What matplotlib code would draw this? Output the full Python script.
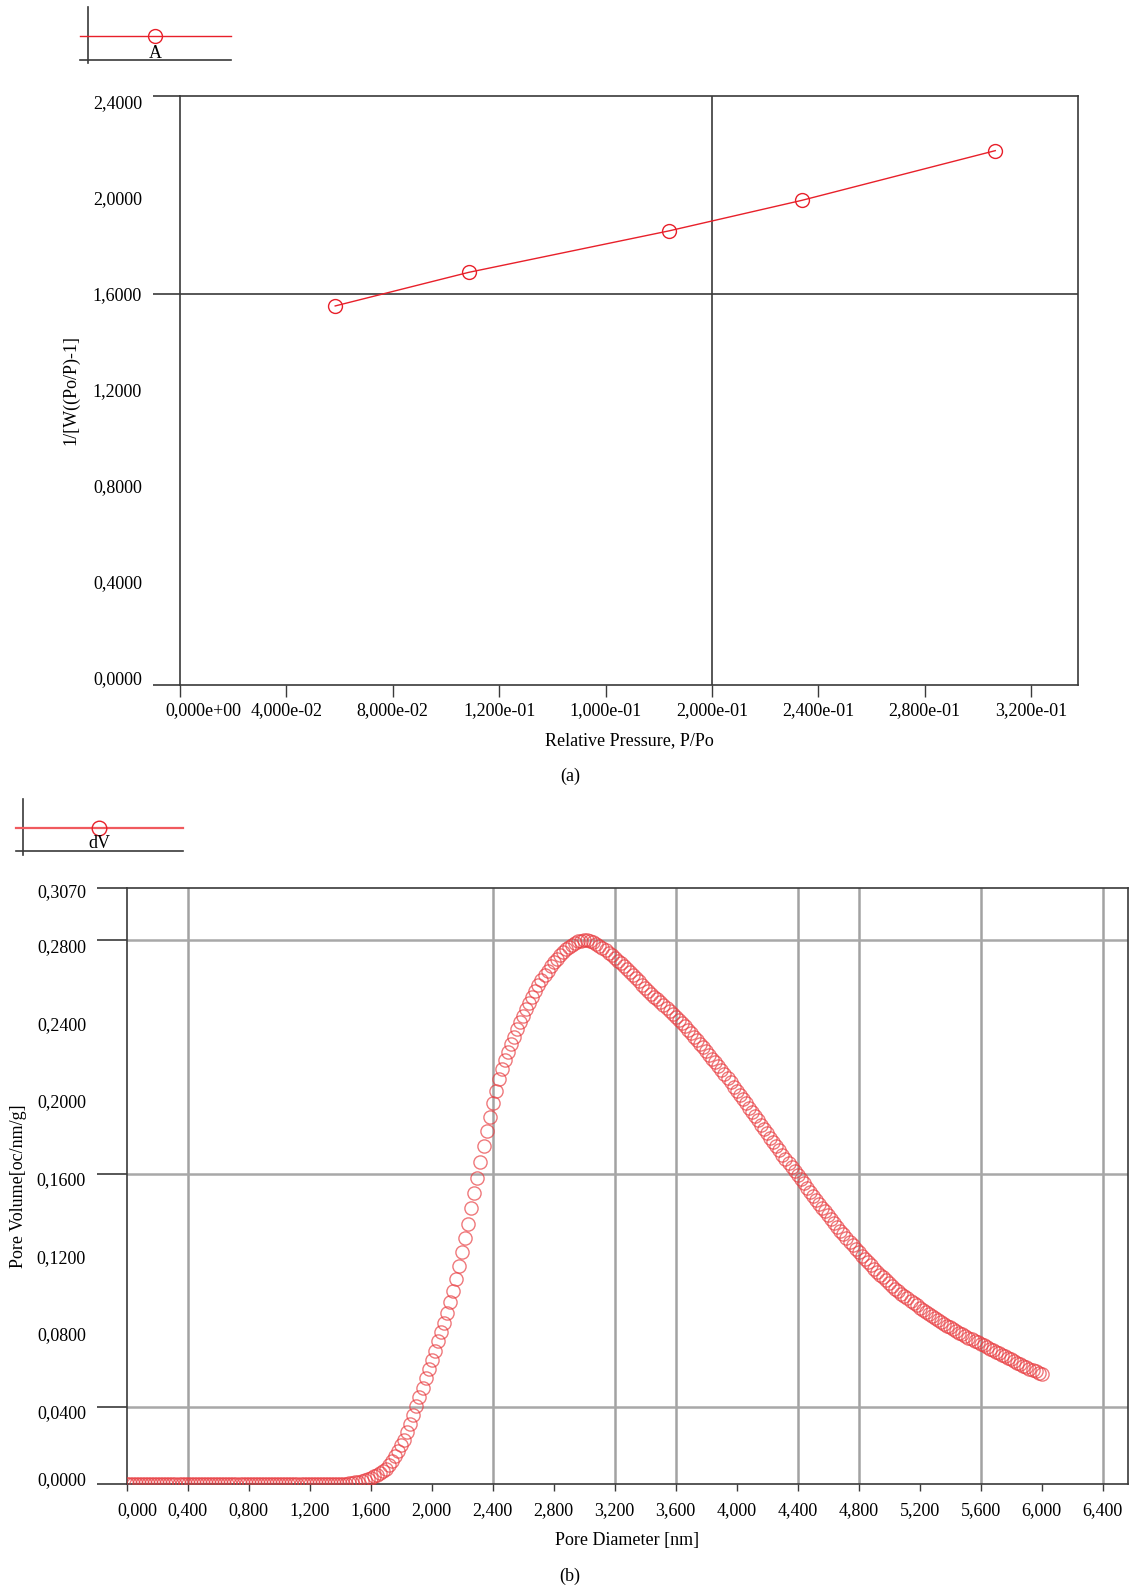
import numpy as np
import matplotlib.pyplot as plt
from matplotlib.transforms import ScaledTranslation

plt.rcParams['font.family'] = ['Liberation Serif', 'DejaVu Serif']
plt.rcParams['font.size'] = 13

# (a) BET plot
bet_p = [0.05835, 0.10857, 0.18395, 0.23380, 0.30650]
bet_y = [1.549, 1.689, 1.862, 1.989, 2.196]
bet_xticks = [0.00, 0.04, 0.08, 0.12, 0.16, 0.20, 0.24, 0.28, 0.32]
bet_xlabels = ['0,000e+00', '4,000e-02', '8,000e-02', '1,200e-01', '1,000e-01',
               '2,000e-01', '2,400e-01', '2,800e-01', '3,200e-01']
bet_yticks = [0.0, 0.4, 0.8, 1.2, 1.6, 2.0, 2.4]
bet_ylabels = ['0,0000', '0,4000', '0,8000', '1,2000', '1,6000', '2,0000', '2,4000']
bet_grid_x = [0.20]
bet_grid_y = [1.6]

# (b) pore size distribution, sampled every 0.02 nm
psd_dv = [
    0, 0, 0, 0, 0, 0, 0, 0, 0, 0,
    0, 0, 0, 0, 0, 0, 0, 0, 0, 0,
    0, 0, 0, 0, 0, 0, 0, 0, 0, 0,
    0, 0, 0, 0, 0, 0, 0, 0, 0, 0,
    0, 0, 0, 0, 0, 0, 0, 0, 0, 0,
    0, 0, 0, 0, 0, 0, 0, 0, 0, 0,
    0, 0, 0, 0, 0, 0, 0, 0, 0, 0,
    0, 0, 0, 0.0005, 0.0008, 0.0010, 0.0014, 0.0018, 0.0023, 0.0029,
    0.0035, 0.0042, 0.0050, 0.0059, 0.0068, 0.0078, 0.0098, 0.0120, 0.0145, 0.0172,
    0.0200, 0.0230, 0.0268, 0.0310, 0.0355, 0.0402, 0.0450, 0.0498, 0.0546, 0.0593,
    0.0640, 0.0688, 0.0736, 0.0784, 0.0831, 0.0882, 0.0937, 0.0995, 0.1058, 0.1125,
    0.1195, 0.1267, 0.1342, 0.1420, 0.1499, 0.1579, 0.1660, 0.1740, 0.1818, 0.1893,
    0.1963, 0.2027, 0.2085, 0.2137, 0.2184, 0.2227, 0.2267, 0.2305, 0.2342, 0.2378,
    0.2413, 0.2447, 0.2480, 0.2511, 0.2541, 0.2569, 0.2596, 0.2621, 0.2645, 0.2667,
    0.2687, 0.2706, 0.2724, 0.2740, 0.2755, 0.2768, 0.2779, 0.2788, 0.2795, 0.2799,
    0.2801, 0.2800, 0.2796, 0.2790, 0.2782, 0.2773, 0.2762, 0.2750, 0.2737, 0.2724,
    0.2710, 0.2696, 0.2682, 0.2667, 0.2652, 0.2637, 0.2621, 0.2605, 0.2589, 0.2573,
    0.2557, 0.2541, 0.2526, 0.2511, 0.2496, 0.2481, 0.2466, 0.2451, 0.2436, 0.2421,
    0.2406, 0.2390, 0.2374, 0.2357, 0.2340, 0.2323, 0.2305, 0.2287, 0.2269, 0.2250,
    0.2231, 0.2212, 0.2192, 0.2172, 0.2152, 0.2132, 0.2111, 0.2090, 0.2069, 0.2048,
    0.2027, 0.2005, 0.1983, 0.1961, 0.1939, 0.1917, 0.1895, 0.1873, 0.1851, 0.1829,
    0.1807, 0.1785, 0.1763, 0.1741, 0.1719, 0.1697, 0.1675, 0.1654, 0.1633, 0.1612,
    0.1591, 0.1570, 0.1549, 0.1528, 0.1507, 0.1486, 0.1465, 0.1445, 0.1425, 0.1405,
    0.1385, 0.1365, 0.1345, 0.1325, 0.1306, 0.1287, 0.1268, 0.1249, 0.1230, 0.1212,
    0.1194, 0.1177, 0.1160, 0.1143, 0.1127, 0.1111, 0.1095, 0.1080, 0.1065, 0.1050,
    0.1036, 0.1022, 0.1008, 0.0995, 0.0982, 0.0969, 0.0957, 0.0945, 0.0933, 0.0921,
    0.0910, 0.0899, 0.0888, 0.0877, 0.0867, 0.0857, 0.0847, 0.0837, 0.0827, 0.0817,
    0.0808, 0.0799, 0.0790, 0.0781, 0.0772, 0.0763, 0.0755, 0.0747, 0.0739, 0.0731,
    0.0723, 0.0715, 0.0707, 0.0699, 0.0691, 0.0683, 0.0675, 0.0667, 0.0659, 0.0651,
    0.0643, 0.0635, 0.0627, 0.0619, 0.0611, 0.0603, 0.0596, 0.0589, 0.0582, 0.0575,
    0.0568,
]
psd_step = 0.02
psd_d = np.arange(len(psd_dv)) * psd_step
psd_xticks = [0.0, 0.4, 0.8, 1.2, 1.6, 2.0, 2.4, 2.8, 3.2, 3.6, 4.0, 4.4, 4.8,
              5.2, 5.6, 6.0, 6.4]
psd_xlabels = ['0,000', '0,400', '0,800', '1,200', '1,600', '2,000', '2,400',
               '2,800', '3,200', '3,600', '4,000', '4,400', '4,800', '5,200',
               '5,600', '6,000', '6,400']
psd_yticks = [0.0, 0.04, 0.08, 0.12, 0.16, 0.20, 0.24, 0.28, 0.307]
psd_ylabels = ['0,0000', '0,0400', '0,0800', '0,1200', '0,1600', '0,2000',
               '0,2400', '0,2800', '0,3070']
psd_grid_x = [0.4, 2.4, 3.2, 3.6, 4.4, 4.8, 5.6, 6.4]
psd_grid_y = [0.04, 0.16, 0.28]

W, H = 1130, 1588
DARK = '#3a3a3a'
RED = '#e8202a'

fig = plt.figure(figsize=(W / 100, H / 100), dpi=100)


def box(left, top, right, bottom):
    """axes rectangle from pixel edges"""
    return [left / W, 1 - bottom / H, (right - left) / W, (bottom - top) / H]


def nudge(label, dx=0.0, dy=0.0):
    label.set_transform(label.get_transform()
                        + ScaledTranslation(dx / 100, dy / 100, fig.dpi_scale_trans))


def frame(ax, marks, ylabel_pad, ymark_len, xtick_len, xpad):
    for s in ax.spines.values():
        s.set_color(DARK)
        s.set_linewidth(1.2)
    ax.yaxis.remove_overlapping_locs = False
    ax.set_yticks(marks, minor=True)
    ax.tick_params(axis='y', which='major', length=0, pad=ylabel_pad, labelsize=13)
    ax.tick_params(axis='y', which='minor', length=ymark_len, width=1.2, color=DARK)
    ax.tick_params(axis='x', which='major', length=xtick_len, width=1.0, color=DARK,
                   pad=xpad, labelsize=13)


# ---- (a) ----
ax1 = fig.add_axes(box(180, 96, 1078, 685))
ax1.set_xlim(0, 0.3376)
ax1.set_ylim(-0.0304, 2.4237)
for gx in bet_grid_x:
    ax1.axvline(gx, color=DARK, lw=1.2, zorder=1)
for gy in bet_grid_y:
    ax1.axhline(gy, color=DARK, lw=1.2, zorder=1)
ax1.plot(bet_p, bet_y, color=RED, lw=1.0, marker='o', ms=10, mfc='none',
         mec=RED, mew=1.0, zorder=3)
ax1.set_xticks(bet_xticks, bet_xlabels)
ax1.set_yticks(bet_yticks, bet_ylabels)
y0, y1 = ax1.get_ylim()
frame(ax1, [y0, bet_grid_y[0], y1], ylabel_pad=27.4, ymark_len=19.4,
      xtick_len=8.6, xpad=4.0)
nudge(ax1.get_xticklabels()[0], dx=23)
fig.text(629 / W, 1 - 741 / H, 'Relative Pressure, P/Po', ha='center', va='center')
fig.text(71 / W, 1 - 390 / H, '1/[W((Po/P)-1]', ha='center', va='center', rotation=90)
fig.text(570 / W, 1 - 776 / H, '(a)', ha='center', va='center')

# ---- (b) ----
ax2 = fig.add_axes(box(126.7, 888, 1128, 1484.3))
ax2.set_xlim(0, 6.566)
ax2.set_ylim(0, 0.307)
for gx in psd_grid_x:
    ax2.axvline(gx, color='#a2a2a2', lw=1.8, zorder=1)
for gy in psd_grid_y:
    ax2.axhline(gy, color='#a8a8a8', lw=1.8, zorder=1)
ax2.plot(psd_d, psd_dv, linestyle='none', marker='o', ms=9.5, mfc='none',
         mec='#e83a3e', mew=1.0, alpha=0.68, zorder=3)
ax2.set_xticks(psd_xticks, psd_xlabels)
ax2.set_yticks(psd_yticks, psd_ylabels)
frame(ax2, [0.0] + psd_grid_y + [0.307], ylabel_pad=29.3, ymark_len=21.6,
      xtick_len=5.0, xpad=7.5)
nudge(ax2.get_xticklabels()[0], dx=11)
ylabs = ax2.get_yticklabels()
nudge(ylabs[0], dy=6)
for lab in ylabs[1:-1]:
    nudge(lab, dy=-5)
nudge(ylabs[-1], dy=-3)
fig.text(627 / W, 1 - 1540 / H, 'Pore Diameter [nm]', ha='center', va='center')
fig.text(19 / W, 1 - 1186 / H, 'Pore Volume[oc/nm/g]', ha='center', va='center',
         rotation=90)
fig.text(570 / W, 1 - 1576 / H, '(b)', ha='center', va='center')

# ---- legend keys, drawn in pixel space ----
lay = fig.add_axes([0, 0, 1, 1])
lay.set_xlim(0, W)
lay.set_ylim(H, 0)
lay.axis('off')

lay.plot([88, 88], [7, 63], color=DARK, lw=1.2)
lay.plot([80, 231], [59.7, 59.7], color=DARK, lw=1.2)
lay.plot([80, 231], [36, 36], color=RED, lw=1.0)
lay.plot([155], [36], marker='o', ms=10, mfc='none', mec=RED, mew=1.0)
lay.text(155, 53, 'A', ha='center', va='center')

lay.plot([23, 23], [799, 855], color=DARK, lw=1.2)
lay.plot([16, 183], [850.7, 850.7], color=DARK, lw=1.2)
lay.plot([16, 183], [827.5, 827.5], color='#f05a5e', lw=1.6)
lay.plot([99], [827.5], marker='o', ms=10.5, mfc='none', mec='#e8202a', mew=1.0)
lay.text(99, 844, 'dV', ha='center', va='center')

fig.savefig('out.png', dpi=100)
